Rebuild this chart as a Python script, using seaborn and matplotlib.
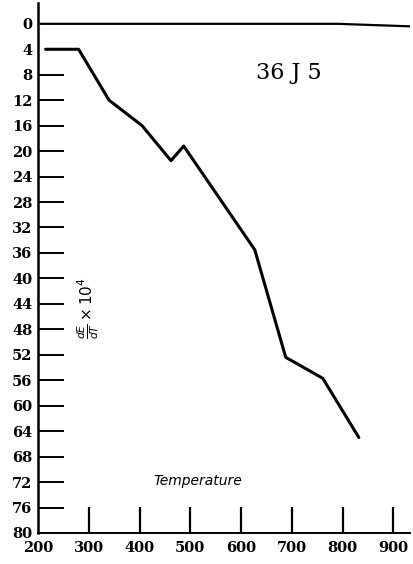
import matplotlib
matplotlib.use("Agg")
import matplotlib.pyplot as plt
import seaborn as sns
import pandas as pd

# curve (temperature, dE/dT x 10^4)
temperature = [215, 280, 340, 405, 462, 487, 627, 688, 761, 832]
dedt = [4, 4, 12, 16, 21.5, 19.2, 35.5, 52.4, 55.7, 65]

# zero reference line
zero_temp = [205, 790, 935]
zero_val = [0, 0, 0.4]

y_ticks = list(range(0, 81, 4))
x_ticks = list(range(200, 901, 100))

sns.set_theme(style="white")
plt.rcParams["font.family"] = ["DejaVu Serif"]
plt.rcParams["text.color"] = "black"

df = pd.DataFrame({"T": temperature, "dEdT": dedt})
zero = pd.DataFrame({"T": zero_temp, "dEdT": zero_val})

fig = plt.figure(figsize=(4.13, 5.64), dpi=100)
ax = fig.add_axes([0.092, 0.055, 0.901, 0.940])

sns.lineplot(data=zero, x="T", y="dEdT", sort=False, color="black", linewidth=1.6, ax=ax)
sns.lineplot(data=df, x="T", y="dEdT", sort=False, color="black", linewidth=2.2, ax=ax)

ax.set_xlim(200, 933)
ax.set_ylim(80, -3.3)

ax.set_yticks(y_ticks)
ax.set_yticklabels([str(v) for v in y_ticks], fontweight="bold", fontsize=10.5)
ax.set_xticks(x_ticks)
ax.set_xticklabels([str(v) for v in x_ticks], fontweight="bold", fontsize=10.5)

ax.tick_params(axis="y", direction="in", length=19, width=1.4, pad=4, color="black",
               labelcolor="black", left=True)
ax.tick_params(axis="x", direction="in", length=19, width=1.6, pad=6, color="black",
               labelcolor="black", bottom=True)

# hide tick marks that sit under the lines / spine
yt = ax.yaxis.get_major_ticks()
for i in (0, 1, len(yt) - 1):
    yt[i].tick1line.set_visible(False)
ax.xaxis.get_major_ticks()[0].tick1line.set_visible(False)

for side in ("top", "right"):
    ax.spines[side].set_visible(False)
ax.spines["left"].set_linewidth(1.8)
ax.spines["bottom"].set_linewidth(1.4)
ax.spines["left"].set_color("black")
ax.spines["bottom"].set_color("black")

ax.set_xlabel("")
ax.set_ylabel("")

ax.text(695, 7.7, "36 J 5", fontsize=16, ha="center", va="center", color="black")
ax.text(514, 71.9, "Temperature", fontsize=10, style="italic", ha="center", va="center",
        family=["DejaVu Sans"], color="black")
ax.text(298, 44.7, r"$\frac{dE}{dT}\times10^4$", fontsize=11, rotation=90,
        ha="center", va="center", color="black")

fig.savefig("out.png", dpi=100)
